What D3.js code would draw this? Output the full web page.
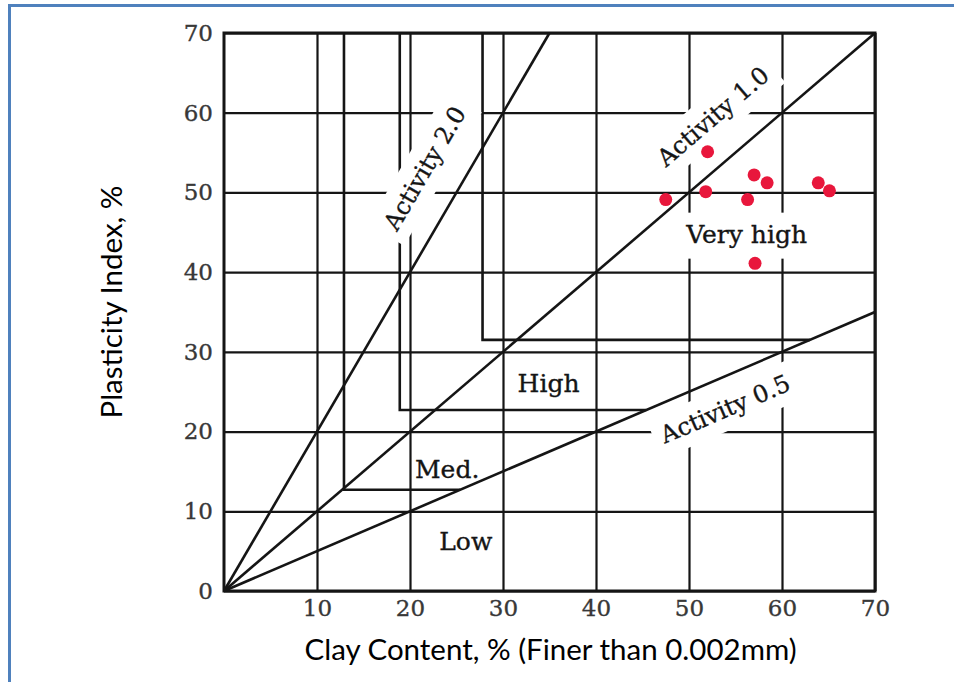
<!DOCTYPE html>
<html>
<head>
<meta charset="utf-8">
<script src="https://cdn.jsdelivr.net/npm/d3@7/dist/d3.min.js"></script>
<style>
  html, body { margin: 0; padding: 0; background: #fff; }
  svg { display: block; }
</style>
</head>
<body>
<svg id="chart" width="954" height="682"></svg>
<script>
// ---- data ----
const xTickValues = [10, 20, 30, 40, 50, 60, 70];
const yTickValues = [0, 10, 20, 30, 40, 50, 60, 70];

// measured samples: clay fraction (%) and plasticity index (%)
const clayContent     = [47.5, 52.0, 51.8, 57.0, 58.4, 56.3, 63.9, 65.1, 57.1];
const plasticityIndex = [49.1, 55.1, 50.1, 52.2, 51.2, 49.1, 51.2, 50.2, 41.1];

// activity = PI / clay fraction
const activityValues = [2.0, 1.0, 0.5];
const activityLabels = ["Activity 2.0", "Activity 1.0", "Activity 0.5"];

// swelling-potential zones; boundaries are L-shaped (vertical at clay %, horizontal at PI %)
const zoneNames     = ["Low", "Med.", "High", "Very high"];
const zoneClayLimit = [12.9, 18.9, 27.8];
const zonePILimit   = [12.7, 22.7, 31.5];
const zoneTopPI     = [70, 70, 70];

// ---- layout ----
const svg = d3.select("#chart");
const x = d3.scaleLinear().domain([0, 70]).range([224, 875]);
const y = d3.scaleLinear().domain([0, 70]).range([591, 33]);
const plotW = x(70) - x(0), plotH = y(0) - y(70);
const ink = "#151515";
const serif = "'DejaVu Serif', 'Liberation Serif', serif";
const sans = "Lato, 'Open Sans', sans-serif";

// printed-style serif text: a thin outline in the fill colour gives heavier strokes
const heavy = (sel, color) => sel
  .attr("fill", color).attr("stroke", color).attr("stroke-width", 0.35)
  .style("font-family", serif);

// outer page frame
svg.append("rect")
  .attr("x", 9.5).attr("y", 5.5)
  .attr("width", 1000).attr("height", 700)
  .attr("fill", "none").attr("stroke", "#4f81bd").attr("stroke-width", 3);

// grid + tick labels through axes
const gx = svg.append("g")
  .attr("transform", `translate(0,${y(0)})`)
  .call(d3.axisBottom(x).tickValues(xTickValues).tickSize(-plotH).tickPadding(9).tickFormat(d3.format("d")));
const gy = svg.append("g")
  .attr("transform", `translate(${x(0)},0)`)
  .call(d3.axisLeft(y).tickValues(yTickValues).tickSize(-plotW).tickPadding(11).tickFormat(d3.format("d")));
[gx, gy].forEach(g => {
  g.select(".domain").remove();
  g.selectAll(".tick line").attr("stroke", ink).attr("stroke-width", 2.2);
  heavy(g.selectAll(".tick text"), "#383838").style("font-size", "23px");
});

// zone boundaries, closed off by the Activity 0.5 line
const lowestActivity = d3.min(activityValues);
svg.append("g").selectAll("path")
  .data(zoneClayLimit.map((c, i) => ({ c, pi: zonePILimit[i], top: zoneTopPI[i] })))
  .join("path")
  .attr("d", d => `M${x(d.c)},${y(d.top)}V${y(d.pi)}H${x(d.pi / lowestActivity)}`)
  .attr("fill", "none").attr("stroke", ink).attr("stroke-width", 2.6);

// plot border
svg.append("rect")
  .attr("x", x(0)).attr("y", y(70)).attr("width", plotW).attr("height", plotH)
  .attr("fill", "none").attr("stroke", ink).attr("stroke-width", 3);

const bgLayer = svg.append("g");
const lineLayer = svg.append("g");
const textLayer = svg.append("g");

// activity lines from the origin to the plot edge
const activityEnd = a => { const cx = Math.min(70, 70 / a); return [cx, a * cx]; };
lineLayer.selectAll("line")
  .data(activityValues)
  .join("line")
  .attr("x1", x(0)).attr("y1", y(0))
  .attr("x2", a => x(activityEnd(a)[0])).attr("y2", a => y(activityEnd(a)[1]))
  .attr("stroke", ink).attr("stroke-width", 2.6);

// label placement (data coordinates of the text centre)
const activityLabelAt = [[21.6, 53.0], [52.6, 59.5], [53.9, 22.8]];
const zoneLabelAt = [[26.0, 5.1], [24.0, 14.2], [34.9, 25.0], [56.2, 43.7]];

function knockout(node, transform, padX, h) {
  const w = node.getComputedTextLength() + 2 * padX;
  bgLayer.append("rect")
    .attr("x", -w / 2).attr("y", -h / 2).attr("width", w).attr("height", h)
    .attr("transform", transform).attr("fill", "#fff");
}

activityValues.forEach((a, i) => {
  const ang = -Math.atan2(y(0) - y(a * 10), x(10) - x(0)) * 180 / Math.PI;
  const [lx, ly] = activityLabelAt[i];
  const tr = `translate(${x(lx)},${y(ly)}) rotate(${ang})`;
  const t = heavy(textLayer.append("text"), ink)
    .attr("transform", tr)
    .attr("text-anchor", "middle").attr("dominant-baseline", "central")
    .style("font-size", "24px")
    .text(activityLabels[i]);
  knockout(t.node(), tr, 8, 42);
});

zoneNames.forEach((name, i) => {
  const [lx, ly] = zoneLabelAt[i];
  const t = heavy(textLayer.append("text"), ink)
    .attr("x", x(lx)).attr("y", y(ly))
    .attr("text-anchor", "middle")
    .style("font-size", "25px")
    .text(name);
  if (name === "Very high") {
    knockout(t.node(), `translate(${x(lx)},${y(ly) - 7})`, 8, 46);
  }
});

// samples
svg.append("g").selectAll("circle")
  .data(clayContent.map((c, i) => [c, plasticityIndex[i]]))
  .join("circle")
  .attr("cx", d => x(d[0])).attr("cy", d => y(d[1])).attr("r", 6.5)
  .attr("fill", "#e8173c");

// axis titles
svg.append("text")
  .attr("x", (x(0) + x(70)) / 2 + 1).attr("y", 660)
  .attr("text-anchor", "middle")
  .attr("fill", "#000").style("font-family", sans).style("font-size", "29.5px")
  .text("Clay Content, % (Finer than 0.002mm)");
svg.append("text")
  .attr("transform", "translate(122,302) rotate(-90)")
  .attr("text-anchor", "middle")
  .attr("fill", "#000").style("font-family", sans).style("font-size", "29.5px")
  .text("Plasticity Index, %");
</script>
</body>
</html>
